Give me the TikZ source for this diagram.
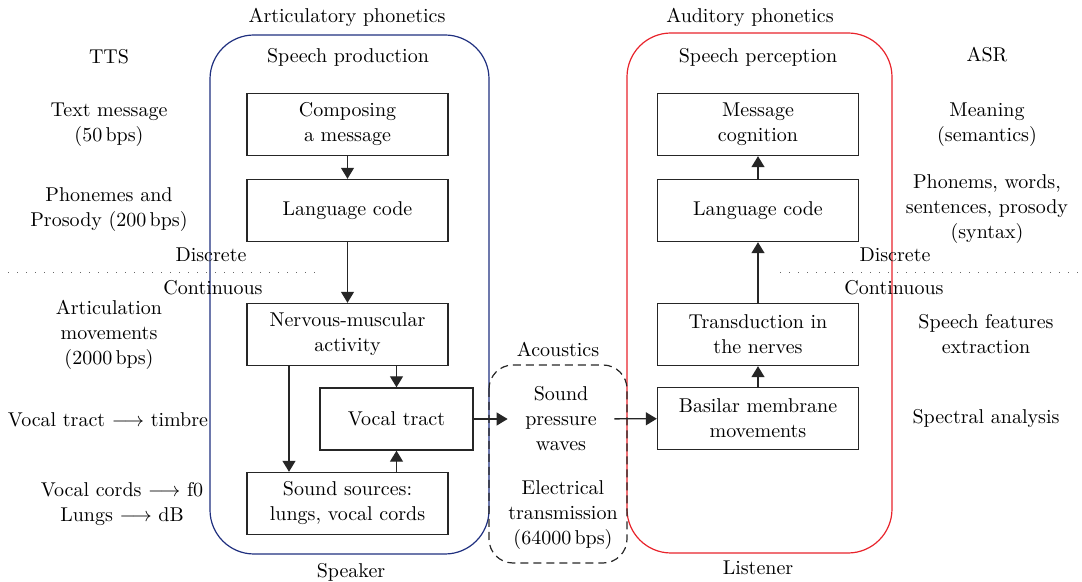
\documentclass[tikz,border=0pt]{standalone}
\usetikzlibrary{positioning,arrows.meta}
\definecolor{spkblue}{HTML}{1F2F7F}
\definecolor{lstred}{HTML}{E8232B}

\begin{document}
\begin{tikzpicture}[x=0.5pt, y=-0.5pt, node distance=43pt,
  font=\fontsize{10pt}{12.5pt}\selectfont,
  main/.style = {draw=black!85, line width=0.7pt, minimum width=100.5pt, minimum height=31pt, align=center, inner sep=2pt},
  lbl/.style = {align=center, inner sep=1pt},
  arr/.style = {-{Triangle[length=5.5pt,width=6.5pt]}, line width=0.65pt, black!85},
  dotline/.style = {black!60, line width=0.5pt, dash pattern=on 0.5pt off 4pt}]
\useasboundingbox (0,0) rectangle (1082,582);

% speaker, listener and the channel between them
\draw[spkblue, line width=0.6pt, rounded corners=22pt] (210,35) rectangle (489,554);
\draw[lstred, line width=0.6pt, rounded corners=22pt] (627,33) rectangle (892,553);
\draw[black!85, line width=0.6pt, dash pattern=on 4pt off 2.5pt, rounded corners=12pt] (489,365) rectangle (627,563);

% discrete / continuous border
\coordinate (dl1) at (8,273);
\coordinate (dl2) at (318,273);
\coordinate (dr1) at (780,273);
\coordinate (dr2) at (1082,273);
\draw[dotline] (dl1) -- (dl2);
\draw[dotline] (dr1) -- (dr2);

% speech production
\node[main] (comp) at (347.5,124.5) {Composing\\a message};
\node[main] (lcodeL) [below of=comp] {Language code};
\node[main] (nerv) [below of=lcodeL, node distance=62pt] {Nervous-muscular\\activity};
\node[main] (src) [below of=nerv, node distance=84.5pt] {Sound sources:\\lungs, vocal cords};
\node[main, minimum width=76.5pt] (vt) at (396.5,419) {Vocal tract};

% speech perception
\node[main] (msg) at (758,124.5) {Message\\cognition};
\node[main] (lcodeR) [below of=msg] {Language code};
\node[main] (trans) [below of=lcodeR, node distance=62pt] {Transduction in\\the nerves};
\node[main] (basil) [below of=trans, node distance=42pt] {Basilar membrane\\movements};

% acoustics
\node[lbl, minimum width=53pt, inner sep=0pt] (waves) at (561,419) {Sound\\pressure\\waves};
\node[lbl] (elec) at (563,515) {Electrical\\transmission\\(64000\,bps)};
\node (acou) at (558,349) {Acoustics};

\draw[arr] (comp) -- (lcodeL);
\draw[arr] (lcodeL) -- (nerv);
\draw[arr] ([xshift=-29.25pt]nerv.south) -- ([xshift=-29.25pt]src.north);
\draw[arr] (nerv.south -| vt.north) -- (vt.north);
\draw[arr] (src.north -| vt.south) -- (vt.south);
\draw[arr] (vt) -- (waves);
\draw[arr] (waves) -- (basil);
\draw[arr] (basil) -- (trans);
\draw[arr] (trans) -- (lcodeR);
\draw[arr] (lcodeR) -- (msg);

% titles
\node (artic) at (347,17) {Articulatory phonetics};
\node (audit) at (750,17) {Auditory phonetics};
\node (prod) at (348,57) {Speech production};
\node (perc) at (758,57) {Speech perception};
\node (spk) at (351,572) {Speaker};
\node (lst) at (758,568) {Listener};
\node (discL) at (211,255) {Discrete};
\node (contL) at (213,288) {Continuous};
\node (discR) at (895,255) {Discrete};
\node (contR) at (894,288) {Continuous};

% TTS side
\node (tts) at (109,57) {TTS};
\node[lbl] (txt) at (109,125) {Text message\\(50\,bps)};
\node[lbl] (phon) at (109,210) {Phonemes and\\Prosody (200\,bps)};
\node[lbl] (artmov) at (109,335) {Articulation\\movements\\(2000\,bps)};
\node[lbl] (timbre) at (108,420) {Vocal tract $\longrightarrow$ timbre};
\node[lbl] (cords) at (122,504) {Vocal cords $\longrightarrow$ f0\\Lungs $\longrightarrow$ dB};

% ASR side
\node (asr) at (987,55) {ASR};
\node[lbl] (mean) at (987,125) {Meaning\\(semantics)};
\node[lbl] (synt) at (987,209) {Phonems, words,\\sentences, prosody\\(syntax)};
\node[lbl] (feat) at (986,334) {Speech features\\extraction};
\node[lbl] (spec) at (986,419) {Spectral analysis};
\end{tikzpicture}
\end{document}
